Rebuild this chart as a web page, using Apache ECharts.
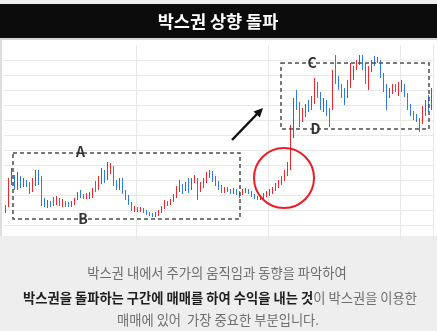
<!DOCTYPE html>
<html><head><meta charset="utf-8">
<script src="https://cdn.jsdelivr.net/npm/echarts@6/dist/echarts.min.js"></script>
<style>html,body{margin:0;padding:0;background:#fff}#c{width:437px;height:331px}</style>
</head><body><div id="c"></div>
<script>
// OHLC values (arbitrary price units)
const openV  = [28,35,57,62,52,58,54,58,56,50,56,66,62,40,34,37,35,37,40,34,38,36,34,36,41,47,44,42,42,44,57,51,58,68,62,68,72,58,52,60,48,43,37,29,32,29,31,29,27,26,24,25,28,32,37,36,39,43,49,54,50,56,52,58,60,50,54,59,64,67,62,57,53,48,52,50,47,50,48,46,48,50,48,45,43,41,42,44,45,47,50,53,56,60,65,72,105,143,134,120,125,134,132,138,154,146,134,136,130,132,166,160,154,148,144,154,162,172,177,183,174,160,170,182,178,178,165,154,144,148,154,148,150,154,145,134,127,124,120,117,126,142,134];
const closeV = [33,58,65,52,57,54,58,55,48,58,63,57,35,35,38,34,40,41,35,39,34,34,37,40,46,43,42,45,46,50,50,60,67,60,72,74,56,52,59,48,42,36,30,32,29,31,28,26,25,24,26,29,32,37,35,40,44,50,54,48,56,49,60,63,48,56,60,65,68,60,56,52,48,52,49,47,51,46,44,50,50,47,44,42,41,44,45,47,49,51,55,58,62,67,76,112,138,132,122,128,132,130,140,156,144,137,140,128,126,166,158,152,145,142,154,164,170,178,183,173,160,172,178,176,182,165,150,136,150,154,150,154,157,145,132,126,122,120,114,130,137,132,150];
const lowV   = [27,33,55,50,50,52,53,53,46,48,54,55,34,33,32,33,34,35,34,33,33,33,33,35,40,42,41,41,41,42,48,50,56,57,60,66,54,50,50,46,40,35,29,28,28,28,27,25,24,23,23,24,27,31,34,35,38,42,48,46,49,47,50,57,40,48,52,57,62,58,54,50,47,47,48,46,46,45,42,45,47,46,43,41,40,40,41,43,44,46,49,52,55,59,64,70,102,130,113,118,123,128,130,136,142,130,128,124,113,130,156,150,142,135,142,152,160,170,175,170,156,150,168,174,177,162,148,130,142,146,148,144,148,143,130,124,120,118,108,116,124,128,130];
const highV  = [35,62,72,65,68,64,62,60,58,62,70,70,64,42,40,39,43,44,42,41,39,38,39,42,48,50,46,47,48,52,59,64,72,70,78,77,74,60,62,62,50,45,38,34,33,33,32,30,28,27,28,30,34,40,39,41,46,54,60,56,58,62,62,65,62,58,62,68,70,69,64,59,55,53,53,51,52,51,49,51,52,51,49,46,44,45,47,49,51,53,57,60,64,70,78,115,142,150,138,132,136,140,144,162,158,148,142,140,132,170,185,164,156,152,160,177,174,180,185,185,176,174,180,184,183,180,167,156,152,156,156,158,160,156,147,136,129,126,122,134,140,145,152];
const days = Array.from({length: openV.length}, (_, i) => 'D' + (i + 1));

const FONT = '"Noto Sans CJK KR", "Noto Sans", sans-serif';
const ohlc = openV.map((o, i) => [o, closeV[i], lowV[i], highV[i]]);

const chart = echarts.init(document.getElementById('c'), null, {renderer: 'canvas'});
chart.setOption({
  backgroundColor: '#ffffff',
  animation: false,
  grid: {left: 4, right: 4, top: 45, bottom: 91},
  xAxis: {
    type: 'category', data: days, boundaryGap: true,
    axisLine: {show: false}, axisTick: {show: false}, axisLabel: {show: false},
    splitLine: {show: true, interval: (i) => i > 0 && i % 44 === 0, lineStyle: {color: '#e8e8e8', width: 1}}
  },
  yAxis: {
    type: 'value', min: 0, max: 195, interval: 15, scale: false,
    axisLine: {show: false}, axisTick: {show: false}, axisLabel: {show: false},
    splitLine: {show: true, showMinLine: false, showMaxLine: false, lineStyle: {color: '#e8e8e8', width: 1}}
  },
  series: [{
    type: 'candlestick', data: ohlc, barWidth: 1.4, clip: false,
    itemStyle: {color: '#f2262c', color0: '#2a7af0', borderColor: '#f2262c', borderColor0: '#2a7af0', borderWidth: 1}
  }],
  graphic: [
    {type: 'rect', z: 0, shape: {x: 0, y: 0, width: 437, height: 4}, style: {fill: '#eeeeee'}},
    {type: 'rect', z: 0, shape: {x: 0, y: 4, width: 437, height: 34}, style: {fill: '#0c0c0c'}},
    {type: 'rect', z: 0, shape: {x: 0, y: 38, width: 437, height: 2}, style: {fill: '#d6d6d6'}},
    {type: 'rect', z: 0, shape: {x: 0, y: 40, width: 2, height: 196}, style: {fill: '#dedede'}},
    {type: 'rect', z: 0, shape: {x: 0, y: 236, width: 437, height: 95}, style: {fill: '#eeeeee'}},
    {type: 'text', z: 10, x: 218, y: 21, style: {text: '박스권 상향 돌파', fill: '#ffffff', fontSize: 17.5, fontWeight: 'bold', fontFamily: FONT, align: 'center', verticalAlign: 'middle'}},
    {type: 'rect', z: 20, shape: {x: 13, y: 153, width: 227, height: 66}, style: {fill: 'rgba(0,0,0,0)', stroke: '#4d4d4d', lineWidth: 1.5, lineDash: [4, 3]}},
    {type: 'rect', z: 20, shape: {x: 281, y: 63, width: 148, height: 66}, style: {fill: 'rgba(0,0,0,0)', stroke: '#4d4d4d', lineWidth: 1.5, lineDash: [4, 3]}},
    {type: 'text', z: 21, x: 80.5, y: 152, style: {text: 'A', fill: '#333', fontSize: 14, fontWeight: 'bold', fontFamily: FONT, align: 'center', verticalAlign: 'middle'}},
    {type: 'text', z: 21, x: 83, y: 219, style: {text: 'B', fill: '#333', fontSize: 14, fontWeight: 'bold', fontFamily: FONT, align: 'center', verticalAlign: 'middle'}},
    {type: 'text', z: 21, x: 312, y: 63, style: {text: 'C', fill: '#333', fontSize: 14, fontWeight: 'bold', fontFamily: FONT, align: 'center', verticalAlign: 'middle'}},
    {type: 'text', z: 21, x: 315.5, y: 129, style: {text: 'D', fill: '#333', fontSize: 14, fontWeight: 'bold', fontFamily: FONT, align: 'center', verticalAlign: 'middle'}},
    {type: 'circle', z: 22, shape: {cx: 284, cy: 178, r: 30}, style: {fill: 'rgba(0,0,0,0)', stroke: '#ec1c24', lineWidth: 2}},
    {type: 'line', z: 22, shape: {x1: 232, y1: 140, x2: 258, y2: 113}, style: {stroke: '#111', lineWidth: 2.5}},
    {type: 'polygon', z: 22, shape: {points: [[263, 108], [259.9, 117.6], [253.5, 111.4]]}, style: {fill: '#111'}},
    {type: 'text', z: 10, x: 217, y: 273, style: {text: '박스권 내에서 주가의 움직임과 동향을 파악하여', fill: '#6e6e6e', fontSize: 13.3, fontFamily: FONT, align: 'center', verticalAlign: 'middle'}},
    {type: 'text', z: 10, x: 220, y: 298, style: {
      text: '{b|박스권을 돌파하는 구간에 매매를 하여 수익을 내는 것}{n|이 박스권을 이용한}',
      align: 'center', verticalAlign: 'middle',
      rich: {
        b: {fill: '#1e1e1e', fontSize: 13.3, fontWeight: 'bold', fontFamily: FONT},
        n: {fill: '#6e6e6e', fontSize: 13.3, fontFamily: FONT}
      }}},
    {type: 'text', z: 10, x: 218, y: 320, style: {text: '매매에 있어  가장 중요한 부분입니다.', fill: '#6e6e6e', fontSize: 13.3, fontFamily: FONT, align: 'center', verticalAlign: 'middle'}}
  ]
});
</script></body></html>
